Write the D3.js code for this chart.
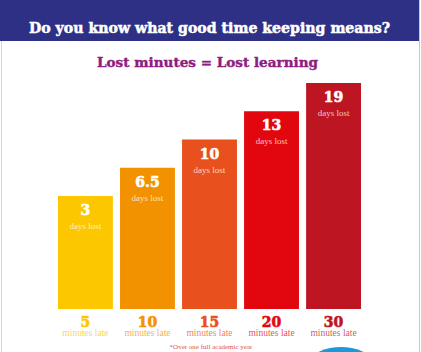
<!DOCTYPE html>
<html>
<head>
<meta charset="utf-8">
<script src="https://cdn.jsdelivr.net/npm/d3@7"></script>
<style>
  body { margin: 0; background: #fff; }
  svg { display: block; }
</style>
</head>
<body>
<div id="chart"></div>
<script>
// Poster data
const minutesLate = [5, 10, 15, 20, 30];
const daysLost = [3, 6.5, 10, 13, 19];
const TITLE = 'Do you know what good time keeping means?';
const SUBTITLE = 'Lost minutes = Lost learning';
const FOOTNOTE = '*Over one full academic year';

const WIDTH = 421;
const HEIGHT = 352;
const BAR_BOTTOM = 309;
const BAR_COLORS = ['#fdc700', '#f39200', '#e8511d', '#e2070f', '#bd1622'];
const HEAVY = '"DejaVu Serif", serif';
const LIGHT = '"Liberation Serif", serif';

const svg = d3.select('#chart')
  .append('svg')
  .attr('width', WIDTH)
  .attr('height', HEIGHT);

// header band
svg.append('rect')
  .attr('x', 0).attr('y', 0)
  .attr('width', 419).attr('height', 41)
  .attr('fill', '#2e3086');

// heavy slab look: bold face plus a thin stroke of the same colour
svg.append('text')
  .attr('x', 209.5).attr('y', 33)
  .attr('text-anchor', 'middle')
  .attr('font-family', HEAVY)
  .attr('font-weight', 'bold')
  .attr('font-size', 14.5)
  .attr('textLength', 361)
  .attr('lengthAdjust', 'spacingAndGlyphs')
  .attr('fill', '#fff')
  .attr('stroke', '#fff')
  .attr('stroke-width', 0.5)
  .text(TITLE);

// thin page edges
svg.append('line')
  .attr('x1', 1.5).attr('x2', 1.5).attr('y1', 41).attr('y2', HEIGHT)
  .attr('stroke', '#d4d4d4');
svg.append('line')
  .attr('x1', 419.5).attr('x2', 419.5).attr('y1', 0).attr('y2', HEIGHT)
  .attr('stroke', '#c8c8c8');

svg.append('text')
  .attr('x', 207.5).attr('y', 67)
  .attr('text-anchor', 'middle')
  .attr('font-family', HEAVY)
  .attr('font-weight', 'bold')
  .attr('font-size', 13.5)
  .attr('textLength', 221)
  .attr('lengthAdjust', 'spacingAndGlyphs')
  .attr('fill', '#8f1c80')
  .attr('stroke', '#8f1c80')
  .attr('stroke-width', 0.4)
  .text(SUBTITLE);

const x = d3.scaleBand()
  .domain(minutesLate)
  .range([58, 361])
  .paddingInner(0.115)
  .paddingOuter(0);

// the poster steps the bars up evenly by rank, not to scale
const barTop = d3.scalePoint()
  .domain(daysLost)
  .range([196, 83]);

const bars = svg.append('g')
  .selectAll('g')
  .data(minutesLate.map((m, i) => ({ minutes: m, days: daysLost[i], color: BAR_COLORS[i] })))
  .join('g');

bars.append('rect')
  .attr('x', d => x(d.minutes))
  .attr('y', d => barTop(d.days))
  .attr('width', x.bandwidth())
  .attr('height', d => BAR_BOTTOM - barTop(d.days))
  .attr('fill', d => d.color);

const cx = d => x(d.minutes) + x.bandwidth() / 2;

bars.append('text')
  .attr('x', cx)
  .attr('y', d => barTop(d.days) + 19)
  .attr('text-anchor', 'middle')
  .attr('font-family', HEAVY)
  .attr('font-weight', 'bold')
  .attr('font-size', 14)
  .attr('fill', '#fff')
  .attr('stroke', '#fff')
  .attr('stroke-width', 0.6)
  .text(d => d.days);

bars.append('text')
  .attr('x', cx)
  .attr('y', d => barTop(d.days) + 33)
  .attr('text-anchor', 'middle')
  .attr('font-family', LIGHT)
  .attr('font-size', 9)
  .attr('fill', '#fff')
  .attr('fill-opacity', 0.75)
  .text('days lost');

bars.append('text')
  .attr('x', cx)
  .attr('y', 326.5)
  .attr('text-anchor', 'middle')
  .attr('font-family', HEAVY)
  .attr('font-weight', 'bold')
  .attr('font-size', 14)
  .attr('fill', d => d.color)
  .attr('stroke', d => d.color)
  .attr('stroke-width', 0.6)
  .text(d => d.minutes);

bars.append('text')
  .attr('x', cx)
  .attr('y', 336)
  .attr('text-anchor', 'middle')
  .attr('font-family', LIGHT)
  .attr('font-size', 9.5)
  .attr('fill', d => d.color)
  .attr('fill-opacity', 0.75)
  .text('minutes late');

svg.append('text')
  .attr('x', 211).attr('y', 348.5)
  .attr('text-anchor', 'middle')
  .attr('font-family', LIGHT)
  .attr('font-size', 7)
  .attr('fill', '#e0504a')
  .text(FOOTNOTE);

// decorative blue disc peeking in at the bottom
svg.append('circle')
  .attr('cx', 341).attr('cy', 402)
  .attr('r', 55)
  .attr('fill', '#1b9ad7');
</script>
</body>
</html>
